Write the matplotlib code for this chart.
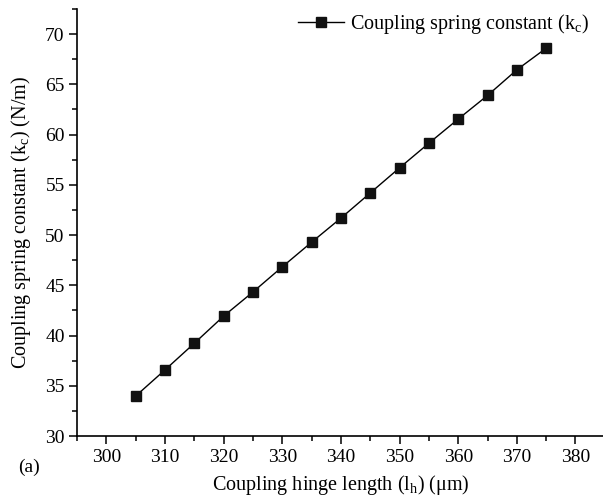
import matplotlib
matplotlib.use('Agg')
import matplotlib.pyplot as plt
from matplotlib.ticker import MultipleLocator

plt.rcParams['font.family'] = ['Liberation Serif', 'DejaVu Serif']
plt.rcParams['mathtext.fontset'] = 'custom'
plt.rcParams['mathtext.rm'] = 'Liberation Serif'
plt.rcParams['mathtext.it'] = 'Liberation Serif:italic'

# Data
hinge_length = [305, 310, 315, 320, 325, 330, 335, 340, 345, 350, 355, 360, 365, 370, 375]
spring_const = [34.0, 36.6, 39.25, 41.95, 44.35, 46.85, 49.3, 51.7, 54.2, 56.7,
                59.15, 61.55, 63.9, 66.45, 68.6]

fig = plt.figure(figsize=(6.03, 4.99), dpi=100)
ax = fig.add_axes([0.128, 0.126, 0.875, 0.856])

ax.plot(hinge_length, spring_const, color='black', lw=1.0, marker='s', ms=6.5,
        markerfacecolor='#111111', markeredgecolor='#111111',
        label=r'Coupling spring constant (k$_\mathrm{c}$)')

ax.set_xlim(295, 385)
ax.set_ylim(30, 72.5)
ax.xaxis.set_major_locator(MultipleLocator(10))
ax.xaxis.set_minor_locator(MultipleLocator(5))
ax.yaxis.set_major_locator(MultipleLocator(5))
ax.yaxis.set_minor_locator(MultipleLocator(2.5))

ax.spines['top'].set_visible(False)
ax.spines['right'].set_visible(False)
ax.spines['left'].set_linewidth(1.2)
ax.spines['bottom'].set_linewidth(1.2)
ax.tick_params(which='major', direction='out', length=6, width=1.1, labelsize=14, pad=3)
ax.tick_params(which='minor', direction='out', length=3.5, width=1.1)

ax.set_xlabel(r'Coupling hinge length (l$_\mathrm{h}$) ($\mathrm{\mu}$m)', fontsize=14.5, labelpad=5)
ax.set_ylabel(r'Coupling spring constant (k$_\mathrm{c}$) (N/m)', fontsize=14.5, labelpad=9)

ax.legend(loc='upper left', bbox_to_anchor=(298 / 603, 1 - 12 / 499),
          bbox_transform=fig.transFigure, frameon=False, fontsize=14.5,
          borderpad=0, borderaxespad=0, handlelength=2.3, handletextpad=0.3)

fig.text(0.03, 0.055, '(a)', fontsize=14)

fig.savefig('out.png', dpi=100)
